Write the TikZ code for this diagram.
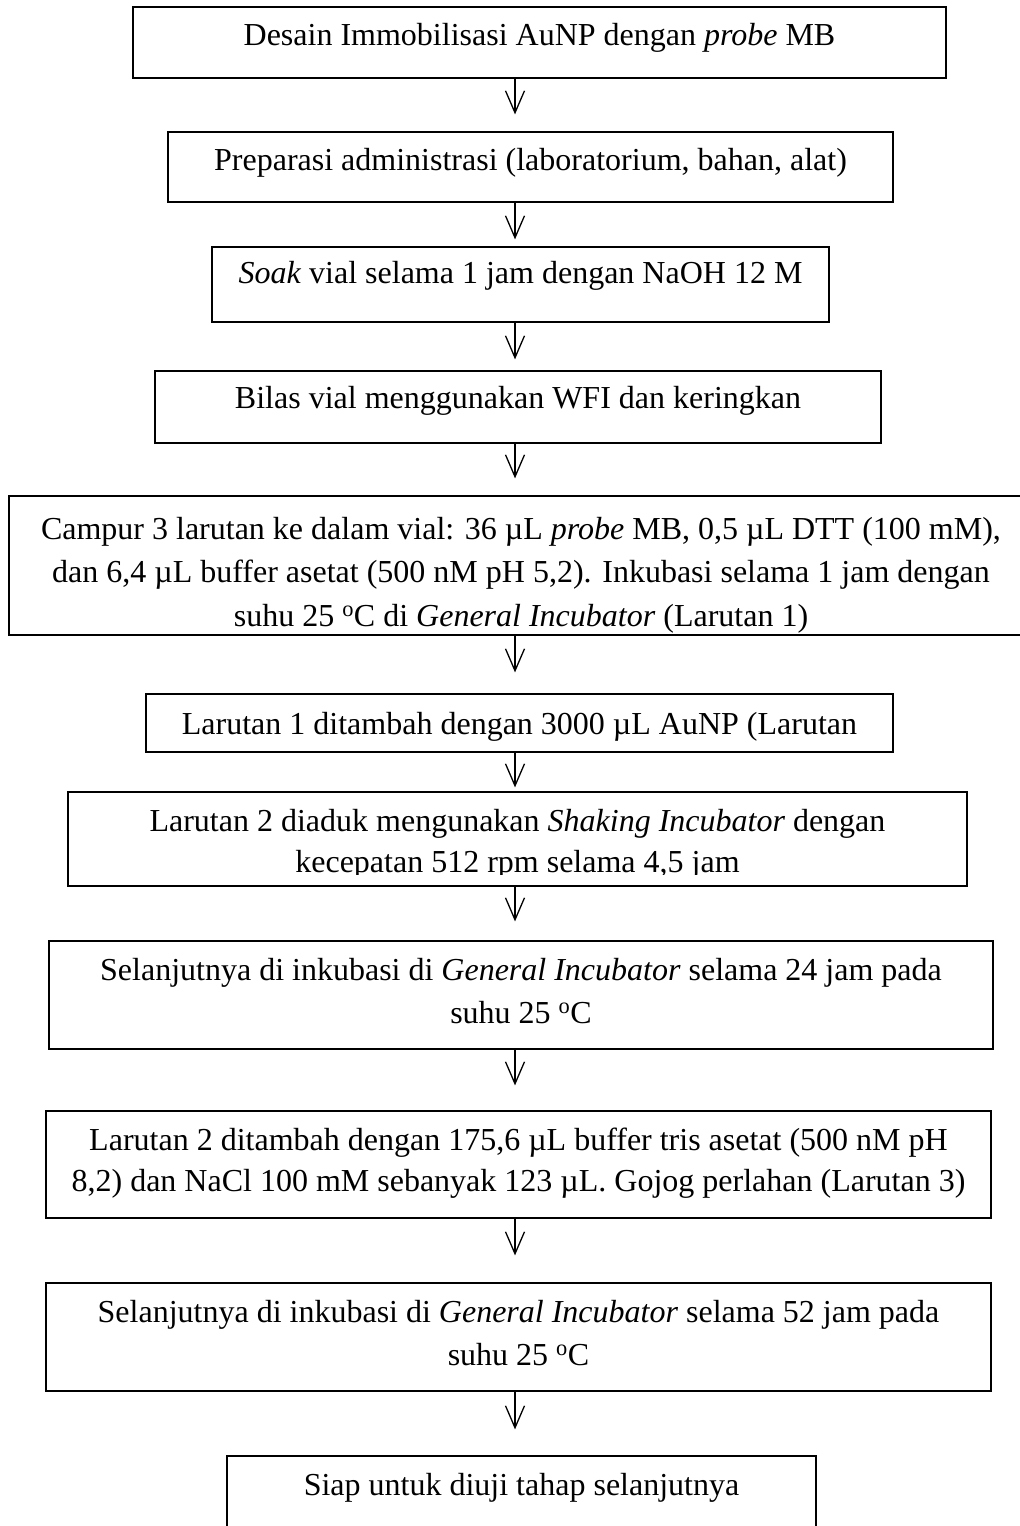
\documentclass[tikz,border=0pt]{standalone}
\usepackage{fontspec}
\setmainfont{Liberation Serif}
\usetikzlibrary{arrows.meta}
\begin{document}
\begin{tikzpicture}[x=1pt,y=-1pt,
  box/.style={draw=black, line width=1.2pt, inner sep=0pt, rectangle},
  txt/.style={inner sep=0pt, anchor=base, align=center, font=\fontsize{32}{41}\selectfont},
  conn/.style={line width=1.3pt, -{Straight Barb[length=22pt,width=19pt,line width=1.3pt]}}]
\useasboundingbox[fill=white] (0,0) rectangle (1020,1526);
\coordinate (xa) at (515,0);
% boxes (center, size)
\node[box, minimum width=813pt, minimum height=71pt]  (b1)  at (539.5,42.5) {};
\node[box, minimum width=725pt, minimum height=70pt]  (b2)  at (530.5,167) {};
\node[box, minimum width=617pt, minimum height=75pt]  (b3)  at (520.5,284.5) {};
\node[box, minimum width=726pt, minimum height=72pt]  (b4)  at (518,407) {};
\node[box, minimum width=1024pt, minimum height=139pt] (b5) at (521,565.5) {};
\node[box, minimum width=747pt, minimum height=58pt]  (b6)  at (519.5,723) {};
\node[box, minimum width=899pt, minimum height=94pt]  (b7)  at (517.5,839) {};
\node[box, minimum width=944pt, minimum height=108pt] (b8)  at (521,995) {};
\node[box, minimum width=945pt, minimum height=107pt] (b9)  at (518.5,1164.5) {};
\node[box, minimum width=945pt, minimum height=108pt] (b10) at (518.5,1337) {};
\node[box, minimum width=589pt, minimum height=90pt]  (b11) at (521.5,1501) {};
% texts (anchor = baseline of the last line)
\node[txt] (t1) at (539.5,45) {Desain Immobilisasi AuNP dengan \textit{probe} MB};
\node[txt] (t2) at (530.5,170) {Preparasi administrasi (laboratorium, bahan, alat)};
\node[txt] (t3) at (520.5,283) {\textit{Soak} vial selama 1 jam dengan NaOH 12 M};
\node[txt] (t4) at (518,408) {Bilas vial menggunakan WFI dan keringkan};
\node[txt, font=\fontsize{32}{43.5}\selectfont] (t5) at (521,626) {Campur 3 larutan ke dalam vial: 36 µL \textit{probe} MB, 0,5 µL DTT (100 mM),\\dan 6,4 µL buffer asetat (500 nM pH 5,2). Inkubasi selama 1 jam dengan\\suhu 25 \textsuperscript{o}C di \textit{General Incubator} (Larutan 1)};
\node[txt] (t6) at (519.5,734) {Larutan 1 ditambah dengan 3000 µL AuNP (Larutan};
\begin{scope}
\clip (68,792) rectangle (967,874);
\node[txt] (t7) at (517.5,872) {Larutan 2 diaduk mengunakan \textit{Shaking Incubator} dengan\\kecepatan 512 rpm selama 4,5 jam};
\end{scope}
\node[txt, font=\fontsize{32}{43}\selectfont] (t8) at (521,1023) {Selanjutnya di inkubasi di \textit{General Incubator} selama 24 jam pada\\suhu 25 \textsuperscript{o}C};
\node[txt] (t9) at (518.5,1191) {Larutan 2 ditambah dengan 175,6 µL buffer tris asetat (500 nM pH\\8,2) dan NaCl 100 mM sebanyak 123 µL. Gojog perlahan (Larutan 3)};
\node[txt, font=\fontsize{32}{43}\selectfont] (t10) at (518.5,1365) {Selanjutnya di inkubasi di \textit{General Incubator} selama 52 jam pada\\suhu 25 \textsuperscript{o}C};
\node[txt] (t11) at (521.5,1495) {Siap untuk diuji tahap selanjutnya};
% connectors
\draw[conn, shorten >=17pt] (b1.south -| xa) -- (b2.north -| xa);
\draw[conn, shorten >=7pt]  (b2.south -| xa) -- (b3.north -| xa);
\draw[conn, shorten >=11pt] (b3.south -| xa) -- (b4.north -| xa);
\draw[conn, shorten >=17pt] (b4.south -| xa) -- (b5.north -| xa);
\draw[conn, shorten >=21pt] (b5.south -| xa) -- (b6.north -| xa);
\draw[conn, shorten >=4pt]  (b6.south -| xa) -- (b7.north -| xa);
\draw[conn, shorten >=19pt] (b7.south -| xa) -- (b8.north -| xa);
\draw[conn, shorten >=25pt] (b8.south -| xa) -- (b9.north -| xa);
\draw[conn, shorten >=27pt] (b9.south -| xa) -- (b10.north -| xa);
\draw[conn, shorten >=26pt] (b10.south -| xa) -- (b11.north -| xa);
\end{tikzpicture}
\end{document}
